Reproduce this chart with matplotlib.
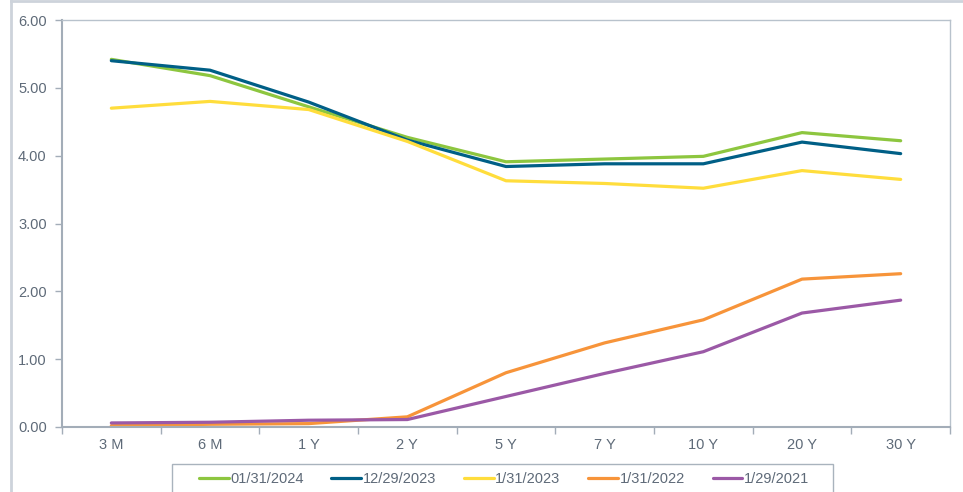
import matplotlib
matplotlib.use("Agg")
import matplotlib.pyplot as plt
from matplotlib.lines import Line2D
from matplotlib.patches import Rectangle

maturities = ["3 M", "6 M", "1 Y", "2 Y", "5 Y", "7 Y", "10 Y", "20 Y", "30 Y"]

curve_2024 = [5.42, 5.18, 4.72, 4.27, 3.91, 3.95, 3.99, 4.34, 4.22]
curve_2023_dec = [5.40, 5.26, 4.79, 4.23, 3.84, 3.88, 3.88, 4.20, 4.03]
curve_2023 = [4.70, 4.80, 4.68, 4.21, 3.63, 3.59, 3.52, 3.78, 3.65]
curve_2022 = [0.02, 0.04, 0.05, 0.15, 0.80, 1.24, 1.58, 2.18, 2.26]
curve_2021 = [0.06, 0.07, 0.10, 0.11, 0.45, 0.79, 1.11, 1.68, 1.87]

labels = ["01/31/2024", "12/29/2023", "1/31/2023", "1/31/2022", "1/29/2021"]
colors = ["#8DC63F", "#005F86", "#FFDD3C", "#F7943A", "#9B59A6"]

plt.rcParams["font.family"] = ["Liberation Sans", "DejaVu Sans"]
text_color = "#5E6A78"
spine_color = "#A3ADB8"

fig = plt.figure(figsize=(9.63, 4.92), dpi=100)
ax = fig.add_axes([62 / 963, 1 - 427 / 492, 888 / 963, 407 / 492])

x = [i + 0.5 for i in range(len(maturities))]
series = [curve_2024, curve_2023_dec, curve_2023, curve_2022, curve_2021]
for vals, lab, col in zip(series, labels, colors):
    ax.plot(x, vals, color=col, lw=2.3, label=lab, solid_capstyle="round")

ax.set_xlim(0, len(maturities))
ax.set_ylim(0, 6)
ax.set_yticks([0, 1, 2, 3, 4, 5, 6])
ax.set_yticklabels(["%.2f" % v for v in range(7)])
ax.set_xticks(range(len(maturities) + 1))
ax.set_xticklabels([])
ax.set_xticks(x, minor=True)
ax.set_xticklabels(maturities, minor=True)
ax.tick_params(axis="x", which="minor", length=0, pad=8, labelsize=10.5, colors=text_color)
ax.tick_params(axis="x", which="major", length=5, color=spine_color, width=1)
ax.tick_params(axis="y", length=5, color=spine_color, width=1, pad=6, labelsize=10.5, labelcolor=text_color)

for side in ["left", "bottom"]:
    ax.spines[side].set_color(spine_color)
    ax.spines[side].set_linewidth(1.5)
for side in ["top", "right"]:
    ax.spines[side].set_color("#B8C2CC")
    ax.spines[side].set_linewidth(1)

# outer chart border (left and top edges visible)
fig.add_artist(Line2D([10.5 / 963, 10.5 / 963], [0, 1 - 1 / 492], transform=fig.transFigure,
                      color="#CDD3DB", lw=2))
fig.add_artist(Line2D([10.5 / 963, 1], [1 - 1 / 492, 1 - 1 / 492], transform=fig.transFigure,
                      color="#CDD3DB", lw=2))

# legend box, cut off at the bottom edge like the original
fig.add_artist(Rectangle((172 / 963, -0.05), (833 - 172) / 963, 0.05 + (492 - 464) / 492,
                         transform=fig.transFigure, fill=False, edgecolor="#A9B3BD", lw=1))
fig.legend(loc="upper center", bbox_to_anchor=(504 / 963, 1 - 464 / 492), ncol=5,
           frameon=False, handlelength=2.05, handletextpad=0.1,
           columnspacing=1.9, fontsize=10.5, borderpad=0.55, borderaxespad=0,
           labelcolor=text_color)

fig.savefig("out.png", dpi=100)
